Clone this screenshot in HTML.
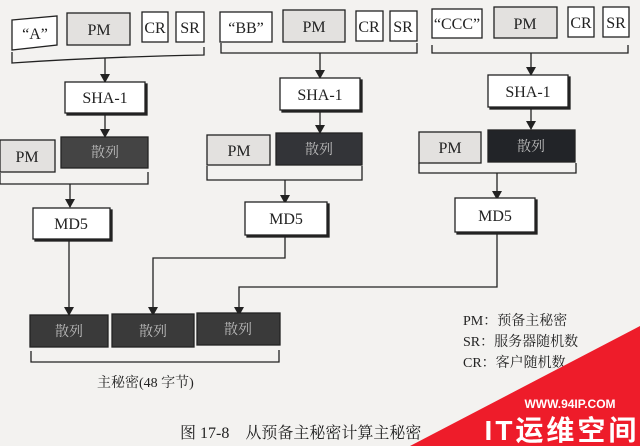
<!DOCTYPE html>
<html><head><meta charset="utf-8"><style>
html,body{margin:0;padding:0;background:#f3f2f0;}
svg{display:block;}
text{font-family:"Liberation Serif","Noto Serif CJK SC",serif;}
</style></head><body>
<svg width="640" height="446" viewBox="0 0 640 446" xmlns="http://www.w3.org/2000/svg">
<defs>
<marker id="b" markerWidth="10" markerHeight="10" refX="5" refY="9" markerUnits="userSpaceOnUse"><path d="M0,1 L10,1 L5,10 Z" fill="#222"/></marker></defs>
<g stroke="#222" stroke-width="1.3" fill="none">
<!-- column 1 -->
<polygon points="12,20 57,16 57,45 12,50" fill="#fff"/>
<rect x="67" y="13" width="63" height="32" fill="#e3e1df"/>
<rect x="142" y="12" width="26" height="30" fill="#fff"/>
<rect x="176" y="12" width="28" height="30" fill="#fff"/>
<path d="M12,52 V63 Q100,57 204,55 V47"/>
<path d="M105,58 V82" marker-end="url(#b)"/>
<rect x="67" y="84" width="80" height="31" fill="#222"/>
<rect x="65" y="82" width="80" height="31" fill="#fff"/>
<path d="M105,113 V137" marker-end="url(#b)"/>
<rect x="0" y="140" width="55" height="32" fill="#e3e1df"/>
<rect x="61" y="137" width="87" height="31" fill="#444"/>
<path d="M0,173 V184 H148 V172"/>
<path d="M70,184 V207" marker-end="url(#b)"/>
<rect x="35" y="210" width="77" height="31" fill="#222"/>
<rect x="33" y="208" width="77" height="31" fill="#fff"/>
<path d="M69,239 V315" marker-end="url(#b)"/>
<!-- column 2 -->
<rect x="220" y="12" width="52" height="30" fill="#fff"/>
<rect x="283" y="10" width="62" height="32" fill="#e3e1df"/>
<rect x="356" y="11" width="27" height="30" fill="#fff"/>
<rect x="390" y="11" width="27" height="30" fill="#fff"/>
<path d="M221,43 V53 H417 V43"/>
<path d="M320,53 V78" marker-end="url(#b)"/>
<rect x="282" y="80" width="80" height="32" fill="#222"/>
<rect x="280" y="78" width="80" height="32" fill="#fff"/>
<path d="M320,110 V133" marker-end="url(#b)"/>
<rect x="207" y="135" width="63" height="30" fill="#e3e1df"/>
<rect x="276" y="133" width="86" height="32" fill="#333438"/>
<path d="M207,166 V180 H362 V166"/>
<path d="M285,180 V203" marker-end="url(#b)"/>
<rect x="247" y="204" width="82" height="33" fill="#222"/>
<rect x="245" y="202" width="82" height="33" fill="#fff"/>
<path d="M285,235 V258 H153 V315" marker-end="url(#b)"/>
<!-- column 3 -->
<rect x="432" y="9" width="50" height="29" fill="#fff"/>
<rect x="494" y="7" width="63" height="31" fill="#e3e1df"/>
<rect x="568" y="7" width="26" height="30" fill="#fff"/>
<rect x="603" y="7" width="26" height="30" fill="#fff"/>
<path d="M432,45 V53 H628 V45"/>
<path d="M531,53 V75" marker-end="url(#b)"/>
<rect x="490" y="77" width="80" height="32" fill="#222"/>
<rect x="488" y="75" width="80" height="32" fill="#fff"/>
<path d="M531,107 V129" marker-end="url(#b)"/>
<rect x="419" y="132" width="62" height="31" fill="#e3e1df"/>
<rect x="488" y="130" width="87" height="32" fill="#222428"/>
<path d="M419,163 V173 H576 V163"/>
<path d="M497,173 V199" marker-end="url(#b)"/>
<rect x="457" y="200" width="80" height="34" fill="#222"/>
<rect x="455" y="198" width="80" height="34" fill="#fff"/>
<path d="M497,232 V287 H239 V315" marker-end="url(#b)"/>
<!-- bottom -->
<rect x="30" y="315" width="78" height="32" fill="#3a3a3a"/>
<rect x="112" y="314" width="82" height="33" fill="#3a3a3a"/>
<rect x="197" y="313" width="83" height="32" fill="#3a3a3a"/>
<path d="M31,351 V362 H279 V350"/>
</g>
<g font-size="16" fill="#222" text-anchor="middle">
<text x="35" y="39">“A”</text><text x="99" y="35">PM</text><text x="155" y="33">CR</text><text x="190" y="33">SR</text>
<text x="246" y="33">“BB”</text><text x="314" y="32">PM</text><text x="369" y="32">CR</text><text x="403" y="32">SR</text>
<text x="457" y="29">“CCC”</text><text x="525" y="29">PM</text><text x="581" y="28">CR</text><text x="616" y="28">SR</text>
<text x="105" y="103">SHA-1</text><text x="320" y="100">SHA-1</text><text x="528" y="97">SHA-1</text>
<text x="27" y="162">PM</text><text x="239" y="156">PM</text><text x="450" y="153">PM</text>
<text x="71" y="229">MD5</text><text x="286" y="224">MD5</text><text x="495" y="221">MD5</text>
</g>
<g font-size="14" fill="#bbb" text-anchor="middle">
<text x="105" y="157">散列</text><text x="319" y="154">散列</text><text x="531" y="151">散列</text>
<text x="69" y="336">散列</text><text x="153" y="336">散列</text><text x="238" y="334">散列</text>
</g>
<g font-size="14" fill="#222">
<text x="97" y="387">主秘密(48 字节)</text>
<text x="463" y="325">PM：预备主秘密</text>
<text x="463" y="346">SR：服务器随机数</text>
<text x="463" y="367">CR：客户随机数</text>
<text x="180" y="438" font-size="16">图 17-8　从预备主秘密计算主秘密</text>
</g>
<polygon points="410,446 640,326 640,446" fill="#ee1c2a"/>
<text x="570" y="408" font-size="12" font-weight="bold" fill="#fff" text-anchor="middle" style="font-family:'Liberation Sans',sans-serif">WWW.94IP.COM</text>
<text x="562" y="440" font-size="28" font-weight="bold" fill="#fff" text-anchor="middle" letter-spacing="3" style="font-family:'Liberation Sans','Noto Sans CJK SC',sans-serif">IT运维空间</text>
</svg>
</body></html>
